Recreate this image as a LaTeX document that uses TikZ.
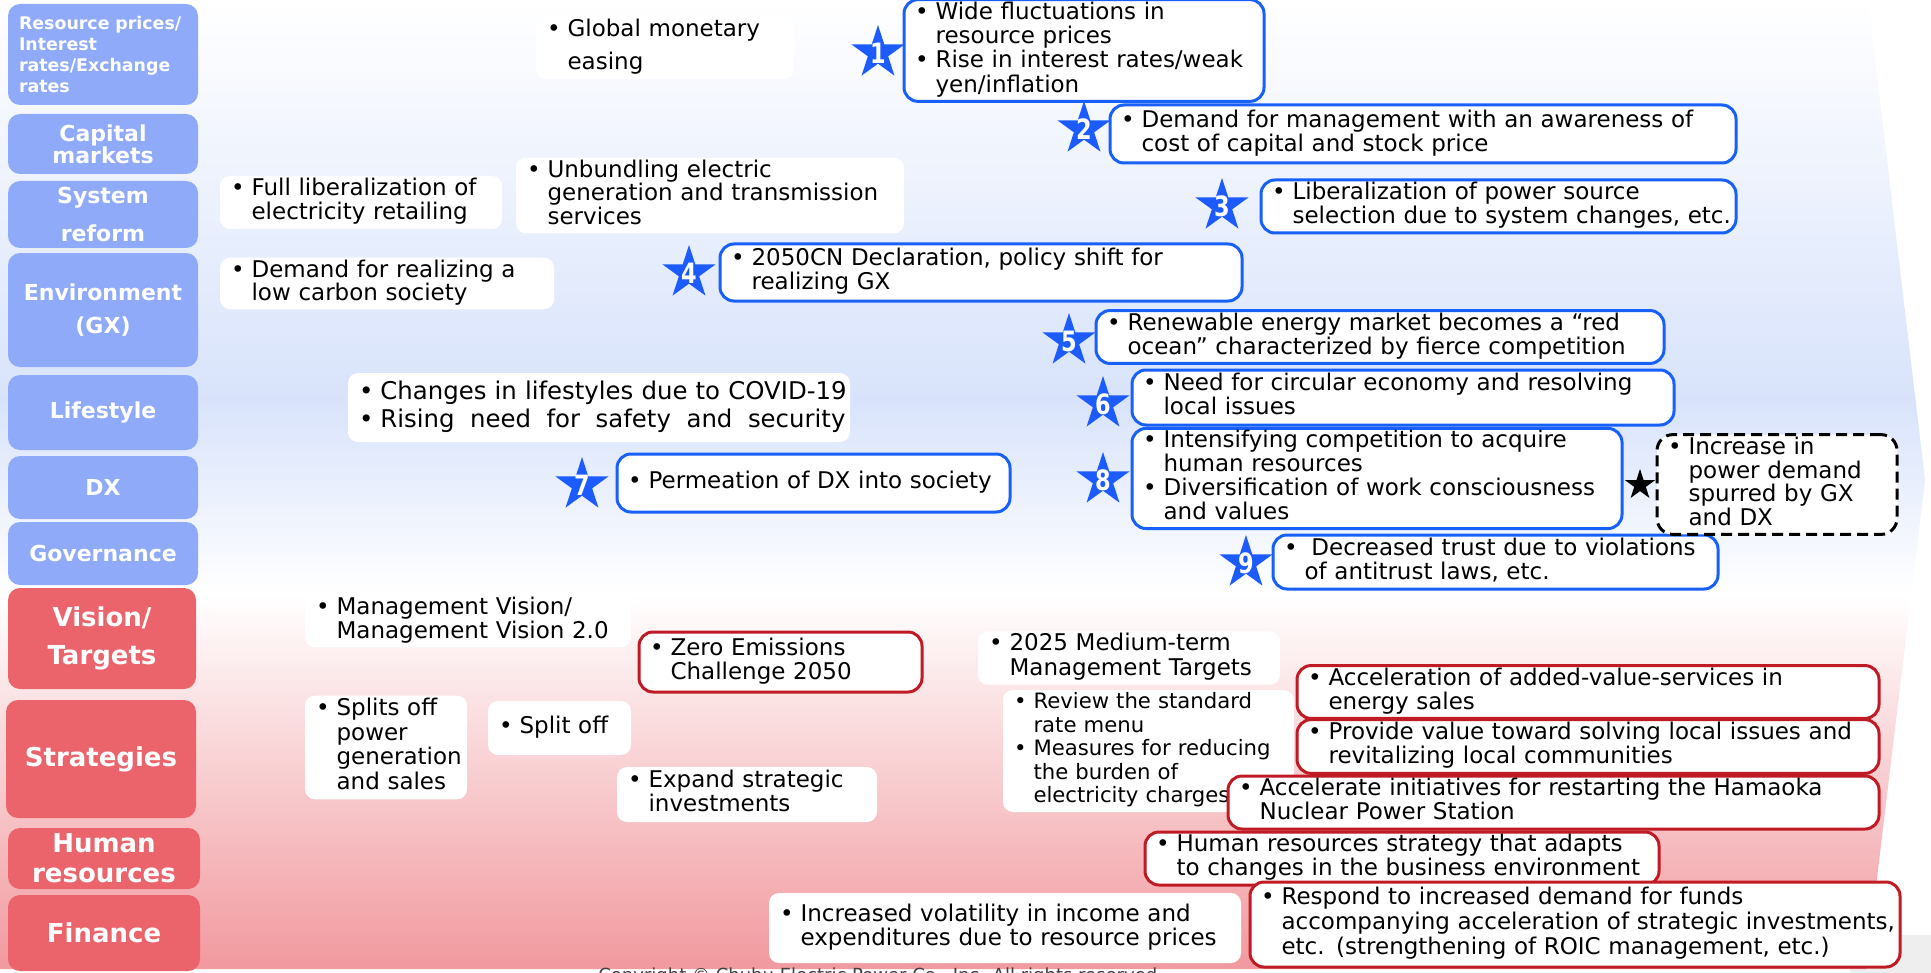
\documentclass[tikz,border=0pt]{standalone}
\usepackage{fontspec}
\usepackage{graphicx}
\setmainfont{DejaVu Sans}
\usetikzlibrary{shapes.geometric}

\definecolor{bgblue}{RGB}{216,227,251}
\definecolor{bgpink}{RGB}{241,153,158}
\definecolor{catblue}{RGB}{143,170,249}
\definecolor{catred}{RGB}{235,100,108}
\definecolor{starblue}{RGB}{28,92,255}
\definecolor{lineblue}{RGB}{24,96,250}
\definecolor{linered}{RGB}{192,26,36}
\definecolor{footgrey}{RGB}{238,238,238}

% bullet list with hanging indent
\newcommand{\pts}[1]{\begin{tabular}{@{}l@{\hspace{3.5pt}}l@{}}#1\end{tabular}}
\newcommand{\bu}{\textbullet}
\newcommand{\starnum}[1]{\scalebox{0.8}[1]{#1}}

\begin{document}
\begin{tikzpicture}[x=0.5pt, y=-0.5pt,
  slot/.style args={#1/#2/#3/#4}{at={(#1/2+#3/2,#2/2+#4/2)},
    minimum width={(#3-#1)*0.5pt}, minimum height={(#4-#2)*0.5pt},
    text width={(#3-#1)*0.5pt-11pt}},
  wbox/.style={fill=white, rounded corners=5pt, inner xsep=5.5pt, inner ysep=1pt,
    align=left, font=\fontsize{11.5}{11.6}\selectfont},
  bbox/.style={wbox, draw=lineblue, line width=1.5pt, rounded corners=7pt},
  rbox/.style={wbox, draw=linered, line width=1.5pt, rounded corners=7pt},
  dbox/.style={wbox, draw=black, line width=1.5pt, dash pattern=on 5.5pt off 3pt, rounded corners=8pt},
  cat/.style={rounded corners=6pt, text=white, align=center, inner xsep=5.5pt, inner ysep=0pt},
  catb/.style={cat, fill=catblue, font=\bfseries\fontsize{11}{13}\selectfont},
  catr/.style={cat, fill=catred, font=\bfseries\fontsize{13}{15}\selectfont},
  starlbl/.style={text=white, font=\bfseries\fontsize{14}{14}\selectfont, inner sep=0pt},
  bstar/.style={star, star points=5, star point ratio=2.618, fill=starblue,
    minimum size=28pt, inner sep=0pt},
  kstar/.style={star, star points=5, star point ratio=2.618, fill=black,
    minimum size=16pt, inner sep=0pt}
]
\useasboundingbox (0,0) rectangle (1931,973);
\fill[white] (0,0) rectangle (1931,973);
\fill[footgrey] (1850,935) rectangle (1931,973);

% background arrow with blue (external) and red (internal) halves
\begin{scope}
  \clip (0,0) -- (1868,0) -- (1925,480) -- (1866,969) -- (0,969) -- cycle;
  \shade[top color=white, bottom color=bgblue] (0,0) rectangle (1931,400);
  \shade[top color=bgblue, bottom color=white] (0,400) rectangle (1931,595);
  \shade[top color=white, bottom color=bgpink] (0,595) rectangle (1931,969);
\end{scope}

\node[anchor=north west, inner sep=0pt, font=\fontsize{9}{10}\selectfont, text=black!75]
  (copyright) at (598,967) {Copyright © Chubu Electric Power Co., Inc. All rights reserved.};

% category column
\node[catb, slot=8/4/198/105, align=left, inner xsep=4pt, font=\bfseries\fontsize{8.7}{10.5}\selectfont] (cRes)
  {Resource prices/\\Interest\\rates/Exchange\\rates};
\node[catb, slot=8/114/198/174, font=\bfseries\fontsize{11}{10.8}\selectfont] (cCap) {Capital\\markets};
\node[catb, slot=8/181/198/248, font=\bfseries\fontsize{11}{19}\selectfont] (cSys) {System\\reform};
\node[catb, slot=8/253/198/367, font=\bfseries\fontsize{11}{16.5}\selectfont] (cEnv) {Environment\\(GX)};
\node[catb, slot=8/375/198/450] (cLife) {Lifestyle};
\node[catb, slot=8/456/198/519] (cDX) {DX};
\node[catb, slot=8/522/198/585] (cGov) {Governance};
\node[catr, slot=8/588/196/689, font=\bfseries\fontsize{13}{19}\selectfont] (cVis) {Vision/\\Targets};
\node[catr, slot=6/700/196/818] (cStr) {Strategies};
\node[catr, slot=8/828/200/889, font=\bfseries\fontsize{13}{15}\selectfont] (cHum) {Human\\resources};
\node[catr, slot=8/895/200/971] (cFin) {Finance};

% plain white notes
\node[wbox, slot=536/25/794/71] (gme) {\pts{\bu & Global monetary\\[4.5pt] & easing}};
\node[wbox, slot=220/176/502/229, font=\fontsize{11.5}{10.9}\selectfont] (flr)
  {\pts{\bu & Full liberalization of\\ & electricity retailing}};
\node[wbox, slot=516/163/904/228, font=\fontsize{11.5}{10.8}\selectfont] (unb)
  {\pts{\bu & Unbundling electric\\ & generation and transmission\\ & services}};
\node[wbox, slot=220/259/554/308, font=\fontsize{11.5}{10.5}\selectfont] (dlc)
  {\pts{\bu & Demand for realizing a\\ & low carbon society}};
\node[wbox, slot=348/373/850/442, font=\fontsize{12.2}{14}\selectfont] (life)
  {\pts{\bu & Changes in lifestyles due to COVID-19\\
        \bu & \hbox to 232.5pt{Rising\hfil need\hfil for\hfil safety\hfil and\hfil security}}};
\node[wbox, slot=305/597/631/645] (mv) {\pts{\bu & Management Vision/\\ & Management Vision 2.0}};
\node[wbox, slot=978/632/1280/684, font=\fontsize{11.5}{12.3}\selectfont] (mt)
  {\pts{\bu & 2025 Medium-term\\ & Management Targets}};
\node[wbox, slot=305/697/467/798, font=\fontsize{11.5}{12.4}\selectfont] (spl)
  {\pts{\bu & Splits off\\ & power\\ & generation\\ & and sales}};
\node[wbox, slot=488/701/631/755] (so) {\pts{\bu & Split off}};
\node[wbox, slot=617/767/877/822] (esi) {\pts{\bu & Expand strategic\\ & investments}};
\node[wbox, slot=1003/690/1294/812, font=\fontsize{10.6}{11.7}\selectfont] (rev)
  {\pts{\bu & Review the standard\\ & rate menu\\ \bu & Measures for reducing\\ & the burden of\\ & electricity charges}};
\node[wbox, slot=769/893/1241/963] (vol)
  {\pts{\bu & Increased volatility in income and\\ & expenditures due to resource prices}};

% external environment (blue)
\node[bbox, slot=904/2/1264/99] (b1)
  {\pts{\bu & Wide fluctuations in\\ & resource prices\\ \bu & Rise in interest rates/weak\\ & yen/inflation}};
\node[bbox, slot=1110/105/1736/163] (b2)
  {\pts{\bu & Demand for management with an awareness of\\ & cost of capital and stock price}};
\node[bbox, slot=1261/180/1736/233] (b3)
  {\pts{\bu & Liberalization of power source\\ & selection due to system changes, etc.}};
\node[bbox, slot=720/244/1242/301] (b4)
  {\pts{\bu & 2050CN Declaration, policy shift for\\ & realizing GX}};
\node[bbox, slot=1096/311/1664/363] (b5)
  {\pts{\bu & Renewable energy market becomes a “red\\ & ocean” characterized by fierce competition}};
\node[bbox, slot=1132/370/1674/425] (b6)
  {\pts{\bu & Need for circular economy and resolving\\ & local issues}};
\node[bbox, slot=617/454/1010/512] (b7) {\pts{\bu & Permeation of DX into society}};
\node[bbox, slot=1132/432/1622/525, font=\fontsize{11.5}{10.9}\selectfont] (b8)
  {\pts{\bu & Intensifying competition to acquire\\ & human resources\\ \bu & Diversification of work consciousness\\ & and values}};
\node[bbox, slot=1273/535/1718/589] (b9)
  {\pts{\bu & \hspace{0.3em}Decreased trust due to violations\\ & of antitrust laws, etc.}};
\node[dbox, slot=1657/435/1897/534, font=\fontsize{11.5}{10.8}\selectfont] (gxdx)
  {\pts{\bu & Increase in\\ & power demand\\ & spurred by GX\\ & and DX}};

% internal response (red)
\node[rbox, slot=639/632/922/692] (zec) {\pts{\bu & Zero Emissions\\ & Challenge 2050}};
\node[rbox, slot=1297/667/1879/717] (r1)
  {\pts{\bu & Acceleration of added-value-services in\\ & energy sales}};
\node[rbox, slot=1297/721/1879/772, font=\fontsize{11.5}{12.3}\selectfont] (r2)
  {\pts{\bu & Provide value toward solving local issues and\\ & revitalizing local communities}};
\node[rbox, slot=1228/776/1879/829] (r3)
  {\pts{\bu & Accelerate initiatives for restarting the Hamaoka\\ & Nuclear Power Station}};
\node[rbox, slot=1145/832/1659/885] (hr)
  {\pts{\bu & Human resources strategy that adapts\\ & to changes in the business environment}};
\node[rbox, slot=1250/882/1900/967, font=\fontsize{11.5}{12.2}\selectfont] (fin)
  {\pts{\bu & Respond to increased demand for funds\\ & accompanying acceleration of strategic investments,\\ & etc. (strengthening of ROIC management, etc.)}};

% numbered stars
\node[bstar, label={[starlbl]center:\starnum{1}}] (s1) at (878,53) {};
\node[bstar, label={[starlbl]center:\starnum{2}}] (s2) at (1084,129) {};
\node[bstar, label={[starlbl]center:\starnum{3}}] (s3) at (1222,206) {};
\node[bstar, label={[starlbl]center:\starnum{4}}] (s4) at (689,273) {};
\node[bstar, label={[starlbl]center:\starnum{5}}] (s5) at (1069,341) {};
\node[bstar, label={[starlbl]center:\starnum{6}}] (s6) at (1103,404) {};
\node[bstar, label={[starlbl]center:\starnum{7}}] (s7) at (582,485) {};
\node[bstar, label={[starlbl]center:\starnum{8}}] (s8) at (1103,480) {};
\node[bstar, label={[starlbl]center:\starnum{9}}] (s9) at (1246,563) {};
\node[kstar] (sk) at (1640,485) {};
\end{tikzpicture}
\end{document}
